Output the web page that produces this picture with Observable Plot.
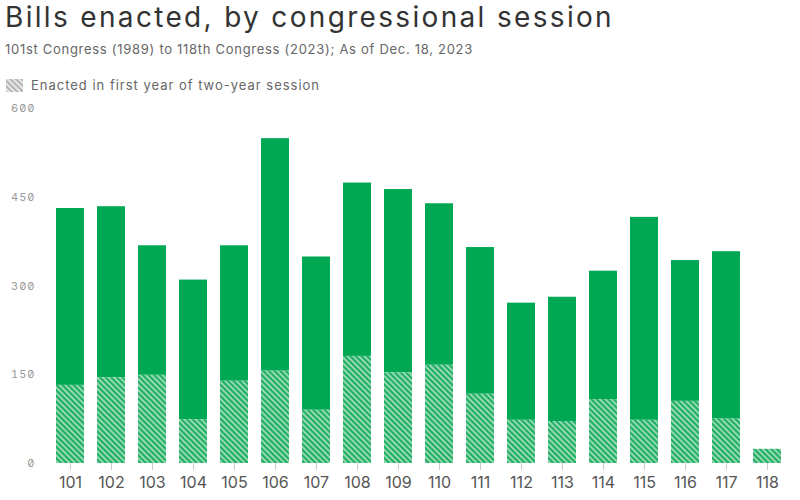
<!DOCTYPE html>
<html>
<head>
<meta charset="utf-8">
<script src="https://cdn.jsdelivr.net/npm/d3@7"></script>
<script src="https://cdn.jsdelivr.net/npm/@observablehq/plot@0.6"></script>
<style>
  html, body { margin: 0; padding: 0; background: #fff; }
  #wrap { position: relative; width: 800px; height: 500px; overflow: hidden; font-family: Inter, "Noto Sans", sans-serif; }
  #title { position: absolute; left: 5px; top: 0px; font-size: 28px; color: #333; white-space: nowrap; }
  #subtitle { position: absolute; left: 5px; top: 41px; font-size: 13px; color: #666; white-space: nowrap; }
  #legend { position: absolute; left: 6px; top: 77px; font-size: 13px; color: #666; white-space: nowrap; display: flex; align-items: center; }
  #legend svg { margin-right: 8px; }
  #chart { position: absolute; left: 0; top: 95px; }
</style>
</head>
<body>
<div id="wrap">
  <div id="title">Bills enacted, by congressional session</div>
  <div id="subtitle">101st Congress (1989) to 118th Congress (2023); As of Dec. 18, 2023</div>
  <div id="legend"><svg width="17" height="13"><defs><pattern id="hatchGray" patternUnits="userSpaceOnUse" width="4" height="4" patternTransform="rotate(45)"><rect width="4" height="4" fill="#e6e6e6"/><rect width="4" height="2" fill="#b5b5b5"/></pattern></defs><rect width="17" height="13" fill="url(#hatchGray)"/></svg><span id="legendText">Enacted in first year of two-year session</span></div>
  <div id="chart"></div>
</div>
<script>
const congresses = ["101","102","103","104","105","106","107","108","109","110","111","112","113","114","115","116","117","118"];
const totalEnacted = [431, 434, 368, 310, 368, 549, 349, 474, 463, 439, 365, 271, 281, 325, 416, 343, 358, 24];
const firstYearEnacted = [132, 145, 149, 74, 139, 156, 90, 181, 153, 166, 117, 73, 71, 108, 73, 105, 75, 24];
const yTicks = [0, 150, 300, 450, 600];

const data = congresses.map((c, i) => ({congress: c, total: totalEnacted[i], first: firstYearEnacted[i]}));

const plot = Plot.plot({
  width: 800,
  height: 405,
  marginTop: 13,
  marginBottom: 37,
  marginLeft: 42,
  marginRight: 4,
  style: {fontFamily: "Inter, 'Noto Sans', sans-serif", background: "transparent"},
  x: {domain: congresses, paddingInner: 0.31, paddingOuter: 0.155, label: null},
  y: {domain: [0, 600], ticks: yTicks, label: null},
  marks: [
    Plot.gridY(yTicks, {stroke: "#e8e8e8", strokeOpacity: 1, x1: 42, x2: 796}),
    Plot.barY(data, {x: "congress", y1: "first", y2: "total", fill: "#00a854"}),
    Plot.barY(data, {x: "congress", y1: 0, y2: "first", fill: "url(#hatchGreen)"}),
    Plot.axisY(yTicks, {tickSize: 0, tickPadding: 7, fontSize: 11, fill: "#999", tickFormat: d => String(d)}),
    Plot.axisX({tickSize: 7, tickPadding: 6, fontSize: 16, fill: "#555", stroke: "#ccc"})
  ]
});

const ns = "http://www.w3.org/2000/svg";
const defs = document.createElementNS(ns, "defs");
defs.innerHTML = '<pattern id="hatchGreen" patternUnits="userSpaceOnUse" width="4" height="4" patternTransform="rotate(45)"><rect width="4" height="4" fill="#98dcb4"/><rect width="4" height="2.1" fill="#1fae63"/></pattern>';
plot.insertBefore(defs, plot.firstChild);
plot.querySelectorAll("[aria-label='y-axis tick label'] text").forEach(t => {
  t.style.fontFeatureSettings = '"zero" 1';
  t.style.letterSpacing = "1px";
});
document.getElementById("chart").appendChild(plot);

function fitWidth(el, target) {
  const w = el.getBoundingClientRect().width;
  const n = el.textContent.length;
  el.style.letterSpacing = ((target - w) / n) + "px";
}
fitWidth(document.getElementById("title"), 609);
fitWidth(document.getElementById("subtitle"), 468);
fitWidth(document.getElementById("legendText"), 289);
</script>
</body>
</html>
